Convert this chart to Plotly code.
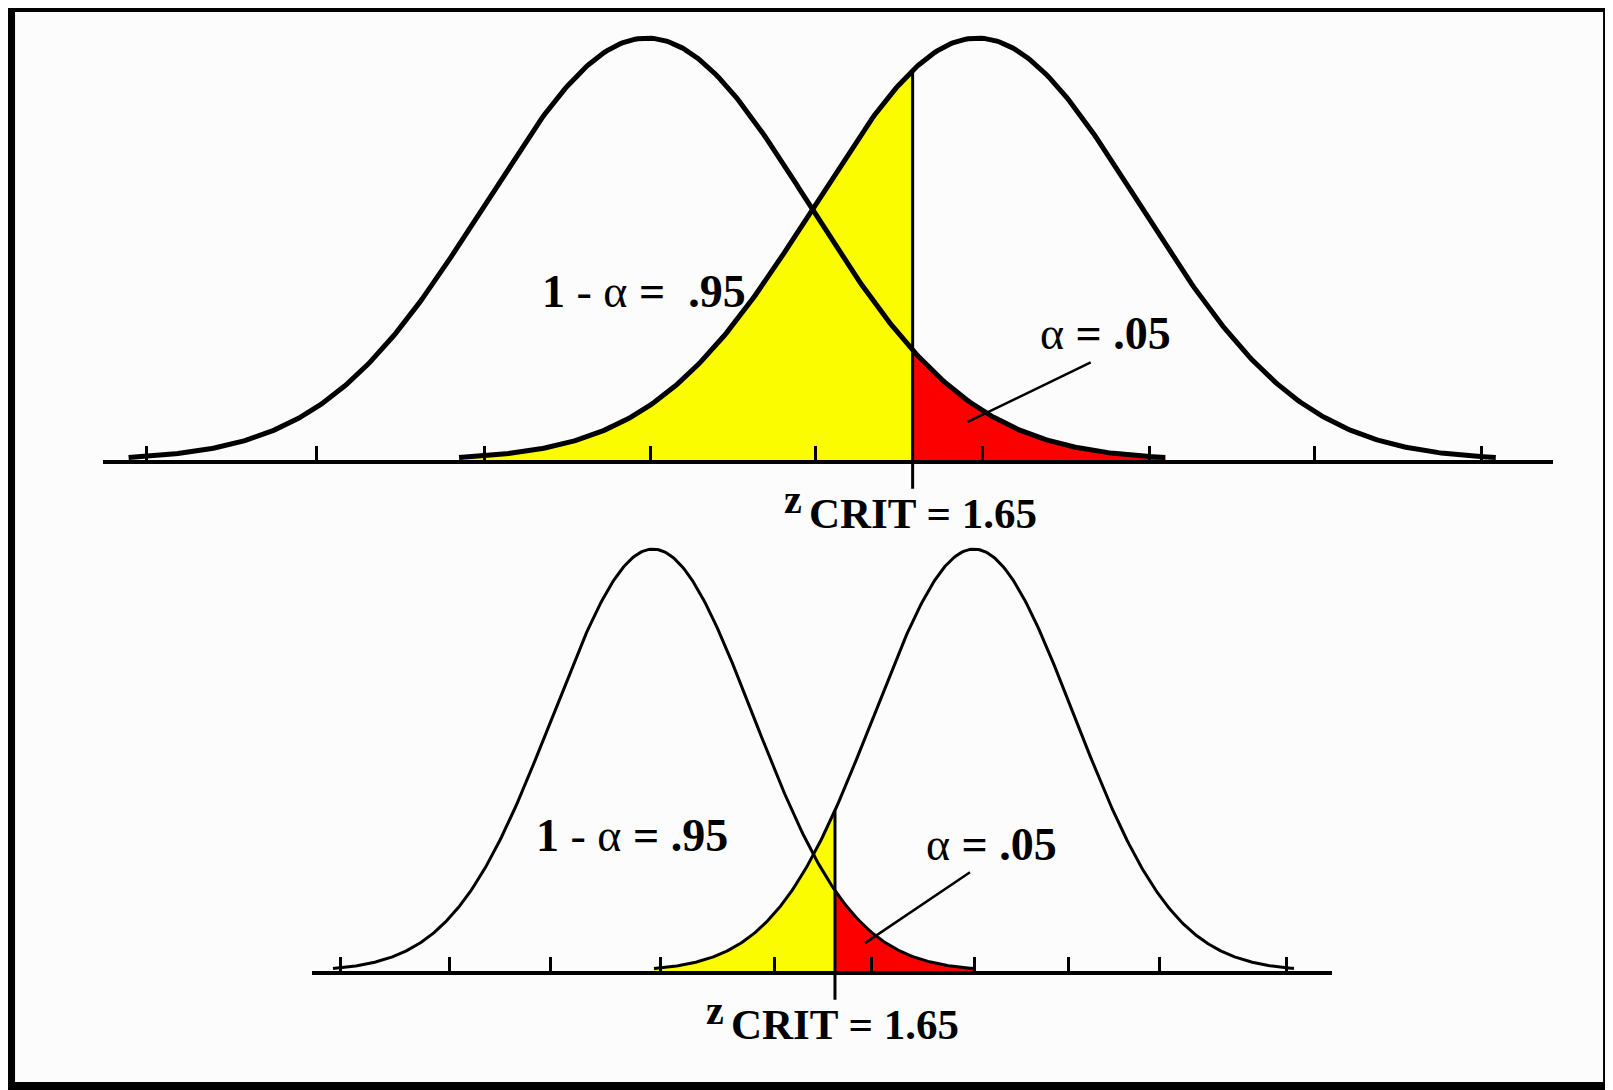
import numpy as np
import plotly.graph_objects as go

# x in standard-deviation units of each panel's curves, peak height = 1
top_means = [0.0, 2.04]          # H0 curve, H1 curve
top_crit = 1.64
top_ticks = [-3.09, -2.04, -1.0, 0.02, 1.04, 2.07, 3.1, 4.12, 5.15]

bot_means = [0.0, 3.21]
bot_crit = 1.82
bot_ticks = [-3.12, -2.03, -1.02, 0.08, 1.22, 2.19, 3.22, 4.16, 5.07, 6.34]

crit_text = "1.65"
power_text = ".95"
alpha_text = ".05"

SPREAD = 3.2
YELLOW = "#fcfc00"
RED = "#fc0000"
FONT = "Liberation Serif, Times New Roman, serif"
NB = "\u00a0"


def bell(mu, lo=None, hi=None):
    lo = mu - SPREAD if lo is None else lo
    hi = mu + SPREAD if hi is None else hi
    x = np.linspace(lo, hi, 400)
    return x, np.exp(-0.5 * (x - mu) ** 2)


fig = go.Figure()


def panel(means, crit, xa, ya, lw):
    m0, m1 = means
    # yellow: under the H1 curve left of the critical value
    x, y = bell(m1, m1 - SPREAD, crit)
    fig.add_trace(go.Scatter(x=x, y=y, fill="tozeroy", fillcolor=YELLOW,
                             line=dict(width=0), mode="lines",
                             xaxis=xa, yaxis=ya, hoverinfo="skip"))
    # red: under the H0 curve right of the critical value
    x, y = bell(m0, crit, m0 + SPREAD)
    fig.add_trace(go.Scatter(x=x, y=y, fill="tozeroy", fillcolor=RED,
                             line=dict(width=0), mode="lines",
                             xaxis=xa, yaxis=ya, hoverinfo="skip"))
    for m in means:
        x, y = bell(m)
        fig.add_trace(go.Scatter(x=x, y=y, mode="lines",
                                 line=dict(color="black", width=lw),
                                 xaxis=xa, yaxis=ya, hoverinfo="skip"))
    h = float(np.exp(-0.5 * (crit - m1) ** 2))
    fig.add_shape(type="line", xref=xa, yref=ya, x0=crit, x1=crit, y0=0, y1=h,
                  line=dict(color="black", width=3))
    fig.add_shape(type="line", xref=xa, yref=ya + " domain", x0=crit, x1=crit,
                  y0=-0.065, y1=0, line=dict(color="black", width=3))
    # z CRIT label under the axis
    fig.add_annotation(x=crit, y=0, xref=xa, yref=ya, xshift=10, yshift=-54,
                       text="<b>CRIT = " + crit_text + "</b>", showarrow=False,
                       font=dict(family=FONT, size=43, color="black"))
    fig.add_annotation(x=crit, y=0, xref=xa, yref=ya, xshift=-120, yshift=-40,
                       text="<b>z</b>", showarrow=False,
                       font=dict(family=FONT, size=40, color="black"))


panel(top_means, top_crit, "x", "y", 5)
panel(bot_means, bot_crit, "x2", "y2", 3)

label_95 = "<b>1</b>" + NB + "-" + NB + "α" + NB + "<b>=</b>" + NB + NB + "<b>" + power_text + "</b>"
label_05 = "α" + NB + "<b>=</b>" + NB + "<b>" + alpha_text + "</b>"
txt = dict(family=FONT, size=46, color="black")

fig.add_annotation(x=-0.02, y=0.40, xref="x", yref="y", text=label_95, showarrow=False, font=txt)
fig.add_annotation(x=2.83, y=0.30, xref="x", yref="y", text=label_05, showarrow=False, font=txt)
fig.add_annotation(x=1.98, y=0.09, xref="x", yref="y", text=" ", showarrow=True,
                   arrowhead=0, arrowwidth=2.5, arrowcolor="black", ax=126, ay=-61, standoff=0)

fig.add_annotation(x=-0.21, y=0.32, xref="x2", yref="y2", text=label_95.replace(NB + NB, NB),
                   showarrow=False, font=txt)
fig.add_annotation(x=3.39, y=0.30, xref="x2", yref="y2", text=label_05, showarrow=False, font=txt)
fig.add_annotation(x=2.12, y=0.066, xref="x2", yref="y2", text=" ", showarrow=True,
                   arrowhead=0, arrowwidth=2.5, arrowcolor="black", ax=108, ay=-73, standoff=0)

# outer frame (the page adds an 8px body margin, so the figure is 1605x1082)
fig.add_shape(type="rect", xref="paper", yref="paper", x0=0.0019, x1=0.9963,
              y0=0.0037, y1=1.0, line=dict(color="black", width=8))

axis_style = dict(showline=True, linecolor="black", linewidth=4, ticks="inside",
                  ticklen=14, tickwidth=3, tickcolor="black", showticklabels=False,
                  showgrid=False, zeroline=False)

fig.update_layout(
    width=1605, height=1082,
    margin=dict(l=0, r=0, t=0, b=0),
    paper_bgcolor="#fcfcfc", plot_bgcolor="rgba(0,0,0,0)",
    showlegend=False,
    xaxis=dict(domain=[0.0592, 0.9626], range=[-3.358, 5.593], anchor="y",
               tickvals=top_ticks, **axis_style),
    yaxis=dict(domain=[0.5823, 0.9917], range=[0, 1.05], anchor="x", visible=False),
    xaxis2=dict(domain=[0.1894, 0.8249], range=[-3.41, 6.79], anchor="y2",
                tickvals=bot_ticks, **axis_style),
    yaxis2=dict(domain=[0.11, 0.5194], range=[0, 1.05], anchor="x2", visible=False),
)

fig.write_html("out.html")
